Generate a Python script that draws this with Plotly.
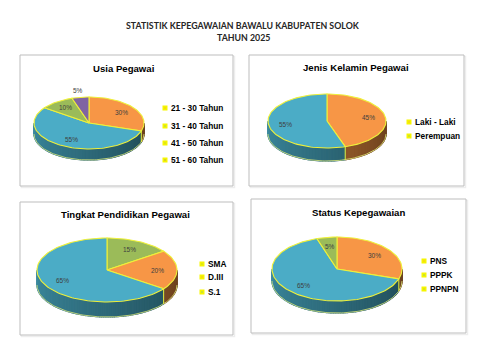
import math
import plotly.graph_objects as go

# ---------------- DATA ----------------
chart_title = "STATISTIK KEPEGAWAIAN BAWALU KABUPATEN SOLOK"
chart_subtitle = "TAHUN 2025"

usia_title = "Usia Pegawai"
usia_labels = ["21 - 30 Tahun", "31 - 40 Tahun", "41 - 50 Tahun", "51 - 60 Tahun"]
usia_values = [30, 55, 10, 5]

gender_title = "Jenis Kelamin Pegawai"
gender_labels = ["Laki - Laki", "Perempuan"]
gender_values = [45, 55]

pend_title = "Tingkat Pendidikan Pegawai"
pend_labels = ["SMA", "D.III", "S.1"]
pend_values = [15, 20, 65]

status_title = "Status Kepegawaian"
status_labels = ["PNS", "PPPK", "PPNPN"]
status_values = [30, 65, 5]

# ---------------- STYLE ----------------
ORANGE = "#F79646"
BLUE = "#4BACC6"
GREEN = "#9BBB59"
PURPLE = "#8064A2"
EDGE = "#EEF03A"

panels = [
    dict(title=usia_title, labels=usia_labels, values=usia_values,
         colors=[ORANGE, BLUE, GREEN, PURPLE], label_r=[0.72, 0.72, 0.72, 1.25],
         box=(20, 55, 233, 186), cx=89, cy=123, rx=55, ry=26, depth=11,
         tpos=(123, 68), leg_x=165, leg_y=[108, 126, 143, 160]),
    dict(title=gender_title, labels=gender_labels, values=gender_values,
         colors=[ORANGE, BLUE], label_r=[0.72, 0.72],
         box=(249, 55, 464, 186), cx=327, cy=121, rx=59, ry=27, depth=13,
         tpos=(356, 67), leg_x=409, leg_y=[122, 136]),
    dict(title=pend_title, labels=pend_labels, values=pend_values,
         colors=[GREEN, ORANGE, BLUE], label_r=[0.72, 0.72, 0.72],
         box=(20, 202, 233, 335), cx=107, cy=270, rx=70, ry=32, depth=15,
         tpos=(125, 214), leg_x=202, leg_y=[264, 277, 292]),
    dict(title=status_title, labels=status_labels, values=status_values,
         colors=[ORANGE, BLUE, GREEN], label_r=[0.72, 0.72, 0.72],
         box=(251, 199, 466, 333), cx=337, cy=269, rx=65, ry=32, depth=12,
         tpos=(358, 212), leg_x=424, leg_y=[261, 275, 289]),
]


def shade(hexc, f):
    h = hexc.lstrip("#")
    r, g, b = (int(h[i:i + 2], 16) for i in (0, 2, 4))
    return "rgb(%d,%d,%d)" % (r * f, g * f, b * f)


def pt(p, th, dy=0.0):
    t = math.radians(th)
    return p["cx"] + p["rx"] * math.sin(t), p["cy"] - p["ry"] * math.cos(t) + dy


def arc(p, a1, a2, dy=0.0, step=2.0):
    n = max(2, int(math.ceil(abs(a2 - a1) / step)) + 1)
    xs, ys = [], []
    for i in range(n):
        th = a1 + (a2 - a1) * i / (n - 1)
        x, y = pt(p, th, dy)
        xs.append(x)
        ys.append(y)
    return xs, ys


fig = go.Figure()
shapes = []
annotations = []

annotations.append(dict(x=243, y=25, text="<b>%s</b>" % chart_title, showarrow=False,
                        font=dict(family="Lato", size=8.8, color="#262626")))
annotations.append(dict(x=243, y=37, text="<b>%s</b>" % chart_subtitle, showarrow=False,
                        font=dict(family="Lato", size=8.8, color="#262626")))

for p in panels:
    x0, y0, x1, y1 = p["box"]
    shapes.append(dict(type="rect", xref="x", yref="y", x0=x0 + 1.5, y0=y0 + 1.5, x1=x1 + 1.5, y1=y1 + 1.5,
                       line=dict(color="#EDEDED", width=1.5), fillcolor="rgba(0,0,0,0)", layer="below"))
    shapes.append(dict(type="rect", xref="x", yref="y", x0=x0, y0=y0, x1=x1, y1=y1,
                       line=dict(color="#BDBDBD", width=1), fillcolor="white", layer="below"))

    total = float(sum(p["values"]))
    bounds = []
    acc = 0.0
    for v in p["values"]:
        a1 = acc / total * 360.0
        acc += v
        a2 = acc / total * 360.0
        bounds.append((a1, a2))

    d = p["depth"]
    # side walls (visible front half: 90..270 deg), smooth shading in thin strips
    for (a1, a2), col in zip(bounds, p["colors"]):
        s, e = max(a1, 90.0), min(a2, 270.0)
        if e <= s:
            continue
        n = max(1, int(math.ceil((e - s) / 1.5)))
        for i in range(n):
            ts = s + (e - s) * i / n
            te = s + (e - s) * (i + 1) / n
            tm = (ts + te) / 2
            f = 0.42 + 0.38 * (tm - 90.0) / 180.0
            c = shade(col, f)
            xt, yt = arc(p, ts, te, 0, step=5)
            xb, yb = arc(p, te, ts, d, step=5)
            fig.add_trace(go.Scatter(x=xt + xb + [xt[0]], y=yt + yb + [yt[0]], mode="lines",
                                     fill="toself", fillcolor=c, line=dict(color=c, width=1.2),
                                     hoverinfo="skip", showlegend=False))
    # side outline
    xb, yb = arc(p, 90, 270, d)
    fig.add_trace(go.Scatter(x=xb, y=yb, mode="lines", line=dict(color="#DDE87A", width=0.8),
                             hoverinfo="skip", showlegend=False))
    for a1, a2 in bounds:
        if 90 < a2 < 270:
            xa, ya = pt(p, a2)
            fig.add_trace(go.Scatter(x=[xa, xa], y=[ya, ya + d], mode="lines",
                                     line=dict(color=EDGE, width=1),
                                     hoverinfo="skip", showlegend=False))
    # top faces
    for (a1, a2), col in zip(bounds, p["colors"]):
        xa, ya = arc(p, a1, a2)
        fig.add_trace(go.Scatter(x=[p["cx"]] + xa + [p["cx"]], y=[p["cy"]] + ya + [p["cy"]],
                                 mode="lines", fill="toself", fillcolor=col,
                                 line=dict(color=EDGE, width=1.1),
                                 hoverinfo="skip", showlegend=False))
    # percentage labels
    for (a1, a2), v, r in zip(bounds, p["values"], p["label_r"]):
        tm = math.radians((a1 + a2) / 2)
        lx = p["cx"] + r * p["rx"] * math.sin(tm)
        ly = p["cy"] - r * p["ry"] * math.cos(tm)
        annotations.append(dict(x=lx, y=ly, text="%d%%" % round(v / total * 100), showarrow=False,
                                font=dict(family="Liberation Sans", size=6.5, color="#404040")))
    # title
    annotations.append(dict(x=p["tpos"][0], y=p["tpos"][1], text="<b>%s</b>" % p["title"],
                            showarrow=False, font=dict(family="Liberation Sans", size=9.6, color="black")))
    # legend
    fig.add_trace(go.Scatter(x=[p["leg_x"]] * len(p["labels"]), y=p["leg_y"], mode="markers",
                             marker=dict(symbol="square", size=3, color=p["colors"],
                                         line=dict(color="#F5F500", width=2)),
                             hoverinfo="skip", showlegend=False))
    for lab, ly in zip(p["labels"], p["leg_y"]):
        annotations.append(dict(x=p["leg_x"] + 4, y=ly, text="<b>%s</b>" % lab, showarrow=False,
                                xanchor="left", font=dict(family="Liberation Sans", size=8.3, color="black")))

fig.update_layout(
    width=480, height=353, margin=dict(l=0, r=0, t=0, b=0),
    paper_bgcolor="white", plot_bgcolor="white",
    xaxis=dict(range=[0, 480], visible=False, fixedrange=True),
    yaxis=dict(range=[353, 0], visible=False, fixedrange=True),
    shapes=shapes, annotations=annotations, showlegend=False,
)

fig.write_html("out.html")
